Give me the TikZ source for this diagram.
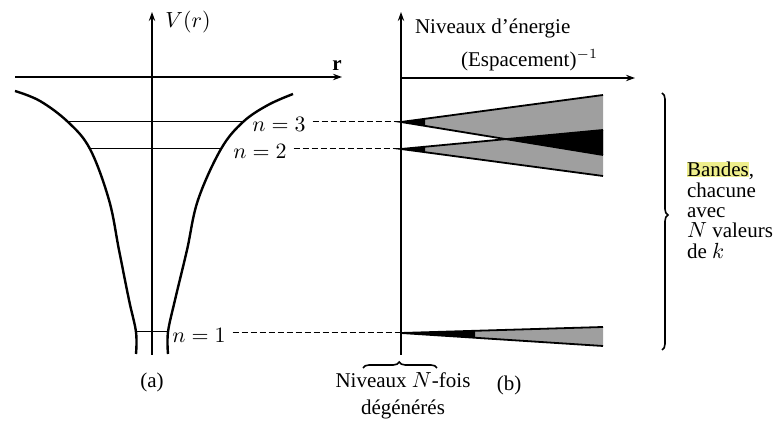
\documentclass[tikz,border=0pt]{standalone}
\usepackage{fontspec}
\setmainfont{Liberation Serif}
\usetikzlibrary{arrows.meta,decorations.pathreplacing}
\definecolor{hilite}{RGB}{238,238,140}
\begin{document}
\begin{tikzpicture}[x=0.5pt, y=-0.5pt, font=\fontsize{10.5}{12}\selectfont,
    axis/.style={line width=0.7pt, -{Stealth[length=4.5pt,width=3.2pt]}},
    well/.style={line width=1.2pt},
    level/.style={line width=0.5pt},
    guide/.style={dash pattern=on 3pt off 1.5pt, line width=0.5pt},
    bandedge/.style={line width=0.9pt},
    bandfill/.style={fill=gray!75},
    brace/.style={decorate, line width=0.8pt}]
  \useasboundingbox (0,0) rectangle (773,421);
  % (a) potential well
  \draw[axis] (15,77) -- (342,77);
  \draw[axis] (152,355) -- (152,12);
  \node (rlab) at (337,66) {\textbf{r}};
  \node (vlab) at (188,22) {$V(r)$};
  \draw[well] plot[smooth, tension=0.6] coordinates
    {(15,91) (40,101) (68,122) (90,149) (109,200) (119,250) (129,300) (136,332) (136,354)};
  \draw[well] plot[smooth, tension=0.6] coordinates
    {(293,94) (268,105) (243,122) (221,149) (198,200) (187,250) (175,300) (168,332) (168,354)};
  % Levels
  \draw[level] (68,122) -- (243,122);
  \draw[level] (90,149) -- (221,149);
  \draw[level] (136,332) -- (168,332);
  \node (n3) at (279,124) {$n = 3$};
  \node (n2) at (260,151) {$n = 2$};
  \node (n1) at (199,335) {$n = 1$};
  \node (capa) at (152,382) {(a)};
  % (b) energy levels vs (spacing)^-1
  \draw[axis] (401,78) -- (635,78);
  \draw[axis] (401,355) -- (401,12);
  \node[anchor=west] (elab) at (408,28) {Niveaux d'énergie};
  \node[anchor=west] (slab) at (454,60) {(Espacement)$^{-1}$};
  \coordinate (b3) at (401,122);
  \coordinate (b2) at (401,149);
  \coordinate (b1) at (401,333);
  % Dashed guides
  \draw[guide] (n3.east |- b3) -- (b3);
  \draw[guide] (n2.east |- b2) -- (b2);
  \draw[guide] (n1.east |- b1) -- (b1);
  % Bands
  \fill[bandfill] (b3) -- (603,95) -- (603,155) -- cycle;
  \fill[bandfill] (b2) -- (603,130) -- (603,176) -- cycle;
  \fill[bandfill] (b1) -- (603,327) -- (603,346) -- cycle;
  \fill (506,139) -- (603,130) -- (603,155) -- cycle;
  \fill (b3) -- (425,118.8) -- (425,125.9) -- cycle;
  \fill (b2) -- (425,146.7) -- (425,152.1) -- cycle;
  \fill (b1) -- (475,330.8) -- (475,337.8) -- cycle;
  \draw[bandedge] (603,95) -- (b3) -- (603,155);
  \draw[bandedge] (603,130) -- (b2) -- (603,176);
  \draw[bandedge] (603,327) -- (b1) -- (603,346);
  \node (capb) at (509,385) {(b)};
  % Braces
  \draw[brace, decoration={brace, amplitude=3pt, aspect=0.475}] (662,93) -- (662,350);
  \node[anchor=north west, align=left, font=\fontsize{10.5}{10.2}\selectfont] (bandes) at (680,155)
    {{\setlength{\fboxsep}{0pt}\colorbox{hilite}{Bandes}},\\chacune\\avec\\$N$ valeurs\\de $k$};
  \draw[brace, decoration={brace, amplitude=3pt, aspect=0.49}] (363,368) -- (437,368);
  \node[align=center, font=\fontsize{10.5}{13.5}\selectfont] (deg) at (403,396)
    {Niveaux $N$-fois\\dégénérés};
\end{tikzpicture}
\end{document}
